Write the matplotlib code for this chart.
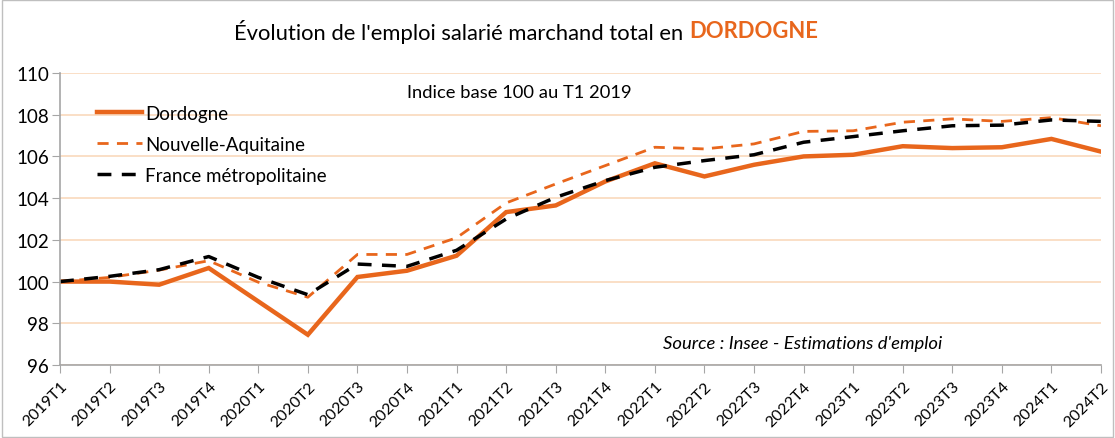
import matplotlib.pyplot as plt
from matplotlib.patches import Rectangle
from matplotlib.lines import Line2D

plt.rcParams['font.family'] = ['Lato', 'DejaVu Sans']

quarters = ['2019T1', '2019T2', '2019T3', '2019T4', '2020T1', '2020T2', '2020T3', '2020T4',
            '2021T1', '2021T2', '2021T3', '2021T4', '2022T1', '2022T2', '2022T3', '2022T4',
            '2023T1', '2023T2', '2023T3', '2023T4', '2024T1', '2024T2']
dordogne = [100.0, 100.0, 99.85, 100.65, 99.05, 97.45, 100.22, 100.52, 101.24, 103.33, 103.65,
            104.8, 105.67, 105.04, 105.6, 106.0, 106.08, 106.49, 106.4, 106.44, 106.84, 106.23]
nouvelle_aquitaine = [100.0, 100.2, 100.55, 101.0, 99.97, 99.25, 101.3, 101.3, 102.1, 103.77, 104.68,
                      105.56, 106.44, 106.36, 106.6, 107.2, 107.23, 107.64, 107.8, 107.68, 107.86, 107.47]
france = [100.0, 100.25, 100.57, 101.2, 100.2, 99.37, 100.84, 100.73, 101.5, 103.0, 104.04,
          104.84, 105.48, 105.8, 106.08, 106.68, 106.95, 107.23, 107.47, 107.5, 107.75, 107.68]

orange = '#E8661C'
grid_col = '#FAD9BC'
axis_col = '#A6A6A6'

fig = plt.figure(figsize=(11.15, 4.39), dpi=100)
ax = fig.add_axes([60 / 1115, 73 / 439, 1041 / 1115, 292 / 439])

x = range(len(quarters))
ax.plot(x, dordogne, color=orange, lw=3.2, label='Dordogne', solid_joinstyle='miter')
ax.plot(x, nouvelle_aquitaine, color=orange, lw=2.0, dashes=(4, 3), label='Nouvelle-Aquitaine')
ax.plot(x, france, color='black', lw=2.5, dashes=(4, 3), label='France métropolitaine')

ax.set_xlim(0, len(quarters) - 1)
ax.set_ylim(96, 110)
ax.set_yticks(range(96, 111, 2))
ax.set_xticks(list(x))
ax.set_xticklabels(quarters, rotation=45, ha='right', rotation_mode='anchor', fontsize=11.5)
ax.tick_params(axis='y', labelsize=13.5, length=6, color=axis_col, pad=2)
ax.tick_params(axis='x', length=6, color=axis_col, pad=4)
ax.grid(axis='y', color=grid_col, lw=1.2)
ax.set_axisbelow(True)
for s in ['top', 'right']:
    ax.spines[s].set_visible(False)
for s in ['left', 'bottom']:
    ax.spines[s].set_color(axis_col)
    ax.spines[s].set_linewidth(1.2)

handles = [Line2D([], [], color=orange, lw=3.2),
           Line2D([], [], color=orange, lw=2.0, dashes=(4, 3)),
           Line2D([], [], color='black', lw=2.5, dashes=(4, 3))]
ax.legend(handles, ['Dordogne', 'Nouvelle-Aquitaine', 'France métropolitaine'],
          loc='upper left', bbox_to_anchor=(37 / 1041, 0.892), frameon=False, fontsize=13.5,
          handlelength=2.4, handletextpad=0.15, labelspacing=0.76, borderpad=0, borderaxespad=0)

ax.text(347 / 1041, 0.935, 'Indice base 100 au T1 2019', transform=ax.transAxes, fontsize=13.2,
        ha='left', va='center')
ax.text(603 / 1041, 0.075, "Source : Insee - Estimations d'emploi", transform=ax.transAxes,
        fontsize=13.3, style='italic', ha='left', va='center')

fig.text(689 / 1115, 1 - 32 / 439, "Évolution de l'emploi salarié marchand total en ",
         fontsize=15.8, ha='right', va='center')
fig.text(689 / 1115, 1 - 32 / 439, 'DORDOGNE', fontsize=15.8, fontweight='bold',
         color=orange, ha='left', va='center')

fig.patches.append(Rectangle((0.002, 0.002), 0.996, 0.996, transform=fig.transFigure,
                             fill=False, edgecolor='#BFBFBF', lw=1.0))

fig.savefig('out.png', dpi=100)
